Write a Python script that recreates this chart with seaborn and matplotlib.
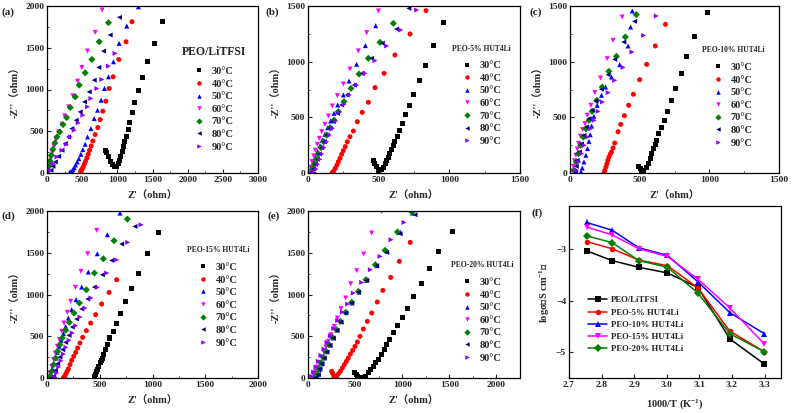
import matplotlib
matplotlib.use("Agg")
import matplotlib.pyplot as plt
import numpy as np
import pandas as pd
import seaborn as sns
from matplotlib.ticker import MultipleLocator, AutoMinorLocator
from matplotlib.font_manager import FontProperties

# ---------------- data ----------------
temps = ["30°C", "40°C", "50°C", "60°C", "70°C", "80°C", "90°C"]
colors = ["#000000", "#ff0000", "#0000ff", "#ff00ff", "#008000", "#000080", "#8b00ff"]
markers = ["s", "o", "^", "v", "D", "<", ">"]

# (a) PEO/LiTFSI
a30x = [831, 850, 879, 907, 935, 959, 987, 1011, 1030, 1049, 1068, 1087, 1105, 1124, 1153, 1176, 1209, 1242, 1299, 1360, 1431, 1526, 1639]
a30y = [272, 244, 192, 140, 100, 72, 80, 112, 152, 200, 252, 312, 372, 440, 524, 608, 724, 844, 984, 1144, 1332, 1552, 1812]
a40x = [480, 483, 487, 501, 515, 529, 548, 567, 586, 605, 628, 652, 685, 723, 756, 794, 836, 883, 940, 1020, 1124, 1209]
a40y = [15, 22, 32, 48, 72, 104, 140, 180, 224, 272, 324, 384, 460, 544, 640, 740, 860, 1012, 1152, 1360, 1572, 1812]
a50x = [321, 340, 354, 368, 387, 406, 430, 453, 482, 510, 543, 576, 624, 671, 718, 770, 817, 874, 945, 1025, 1134, 1300]
a50y = [8, 16, 20, 40, 64, 96, 132, 172, 224, 280, 344, 432, 532, 652, 752, 872, 1012, 1152, 1332, 1552, 1760, 1990]
a60x = [24, 38, 57, 76, 99, 128, 165, 213, 250, 307, 368, 435, 496, 576, 685, 784]
a60y = [52, 112, 176, 244, 320, 400, 492, 584, 684, 792, 924, 1100, 1264, 1460, 1684, 1952]
a70x = [19, 28, 43, 61, 85, 113, 142, 180, 227, 279, 331, 402, 458, 543, 638, 742, 874]
a70y = [32, 80, 144, 212, 284, 360, 432, 492, 580, 664, 784, 912, 1052, 1200, 1360, 1572, 1800]
a80x = [57, 85, 118, 165, 213, 260, 307, 354, 416, 472, 534, 600, 671, 737, 803, 898, 1030]
a80y = [32, 80, 132, 200, 272, 352, 432, 532, 632, 732, 852, 972, 1112, 1264, 1460, 1652, 1864]
a90x = [47, 85, 142, 213, 274, 331, 387, 444, 510, 576, 624, 709, 779, 874, 968]
a90y = [32, 112, 192, 272, 344, 432, 512, 600, 692, 792, 892, 1012, 1120, 1280, 1432]

# (b) PEO-5% HUT4Li
b30x = [462, 474, 486, 502, 521, 533, 545, 556, 568, 580, 592, 604, 615, 630, 648, 667, 691, 717, 745, 788, 832, 891, 957]
b30y = [111, 87, 57, 21, 27, 51, 81, 111, 141, 174, 207, 245, 281, 326, 380, 446, 521, 605, 707, 829, 964, 1144, 1350]
b40x = [172, 182, 193, 205, 215, 226, 238, 250, 264, 278, 297, 321, 349, 384, 427, 474, 538, 615, 722, 835]
b40y = [3, 18, 42, 72, 102, 132, 168, 201, 237, 281, 326, 377, 461, 545, 635, 767, 895, 1060, 1249, 1458]
b50x = [21, 31, 42, 54, 68, 85, 101, 120, 139, 160, 184, 210, 250, 290, 344, 406, 479]
b50y = [12, 51, 96, 141, 192, 245, 296, 347, 407, 467, 536, 611, 701, 826, 976, 1144, 1323]
b60x = [9, 19, 28, 40, 52, 66, 80, 97, 120, 144, 172, 208, 250, 297, 356, 415, 498]
b60y = [12, 51, 102, 153, 204, 257, 311, 371, 437, 512, 602, 695, 799, 934, 1096, 1260, 1455]
b70x = [33, 45, 59, 73, 92, 111, 132, 156, 184, 215, 255, 304, 361, 427, 509, 604]
b70y = [36, 78, 123, 171, 228, 281, 341, 407, 476, 551, 641, 760, 889, 1030, 1174, 1344]
b80x = [40, 52, 66, 80, 97, 116, 134, 156, 179, 208, 238, 278, 328, 384, 450, 526, 627, 714]
b80y = [36, 78, 123, 171, 228, 281, 341, 401, 461, 536, 611, 701, 790, 895, 1030, 1165, 1293, 1479]
b90x = [45, 57, 68, 83, 97, 113, 132, 151, 172, 196, 222, 255, 292, 344, 403, 474, 556, 656, 769]
b90y = [3, 36, 78, 123, 171, 228, 281, 341, 401, 467, 545, 617, 701, 790, 895, 1009, 1141, 1284, 1464]

# (c) PEO-10% HUT4Li
c30x = [495, 505, 515, 524, 531, 547, 564, 578, 588, 600, 612, 624, 638, 654, 676, 697, 728, 754, 797, 838, 892, 990]
c30y = [60, 40, 20, 12, 24, 45, 84, 129, 174, 219, 255, 293, 353, 407, 476, 554, 650, 763, 892, 1048, 1228, 1440]
c40x = [245, 250, 258, 265, 272, 280, 289, 298, 309, 321, 345, 364, 390, 421, 455, 500, 550, 612, 685]
c40y = [0, 24, 54, 84, 114, 144, 170, 189, 225, 269, 371, 437, 515, 608, 707, 838, 976, 1141, 1335]
c50x = [79, 88, 100, 114, 126, 136, 145, 155, 171, 195, 226, 255, 298, 357, 417, 435, 447]
c50y = [9, 45, 99, 159, 219, 284, 344, 422, 509, 608, 698, 772, 862, 973, 1141, 1311, 1455]
c60x = [16, 24, 33, 42, 52, 62, 75, 90, 107, 124, 150, 178, 219, 267, 309, 374]
c60y = [18, 60, 110, 160, 215, 265, 330, 390, 443, 518, 608, 722, 853, 1027, 1192, 1401]
c70x = [31, 45, 60, 76, 95, 114, 136, 159, 193, 231, 279, 333, 397, 476]
c70y = [24, 99, 174, 248, 323, 398, 473, 554, 653, 772, 913, 1048, 1222, 1422]
c80x = [40, 45, 52, 67, 83, 100, 119, 138, 159, 186, 226, 274, 321, 386, 464]
c80y = [9, 60, 114, 189, 263, 338, 413, 488, 563, 644, 752, 883, 1021, 1176, 1362]
c90x = [48, 64, 83, 102, 126, 150, 174, 202, 233, 274, 321, 381, 445, 528, 619]
c90y = [24, 99, 174, 248, 323, 398, 473, 554, 638, 722, 832, 949, 1087, 1236, 1410]

# (d) PEO-15% HUT4Li
d30x = [446, 452, 460, 470, 480, 492, 505, 514, 525, 540, 556, 575, 597, 629, 660, 695, 743, 803, 872, 951, 1055]
d30y = [0, 20, 45, 75, 105, 140, 180, 205, 239, 287, 339, 399, 479, 559, 658, 770, 918, 1073, 1257, 1488, 1748]
d40x = [155, 161, 172, 180, 191, 202, 218, 234, 253, 272, 291, 313, 338, 373, 414, 461, 518, 588, 660]
d40y = [0, 8, 30, 52, 80, 108, 160, 211, 259, 307, 359, 419, 487, 567, 658, 758, 886, 1025, 1177]
d50x = [22, 35, 51, 66, 82, 98, 114, 133, 155, 177, 202, 234, 275, 329, 392, 477, 572, 692]
d50y = [10, 52, 108, 172, 239, 307, 379, 451, 531, 618, 718, 818, 938, 1089, 1269, 1488, 1716, 1975]
d60x = [15, 28, 44, 63, 79, 98, 117, 139, 161, 193, 224, 269, 322, 386, 471]
d60y = [10, 60, 140, 219, 299, 379, 459, 559, 658, 786, 918, 1085, 1277, 1488, 1768]
d70x = [15, 28, 44, 63, 82, 101, 123, 145, 177, 212, 256, 307, 373, 449, 534, 635, 762]
d70y = [0, 20, 80, 160, 239, 319, 399, 479, 571, 666, 778, 898, 1057, 1257, 1428, 1644, 1903]
d80x = [50, 63, 79, 101, 123, 149, 177, 209, 240, 281, 329, 386, 449, 525, 613, 708, 834]
d80y = [0, 20, 92, 172, 251, 339, 427, 511, 610, 706, 826, 946, 1089, 1237, 1408, 1604, 1815]
d90x = [70, 76, 92, 111, 133, 155, 180, 209, 240, 272, 313, 360, 417, 477, 566, 660, 765, 891]
d90y = [0, 8, 60, 132, 207, 287, 367, 451, 539, 626, 730, 838, 958, 1085, 1257, 1416, 1624, 1835]

# (e) PEO-20% HUT4Li
e30x = [492, 510, 530, 552, 575, 612, 641, 666, 690, 719, 747, 775, 807, 835, 867, 906, 952, 1002, 1055, 1119, 1200, 1289, 1385, 1533]
e30y = [68, 45, 20, 5, 10, 20, 60, 100, 140, 180, 227, 279, 339, 399, 459, 539, 626, 730, 838, 978, 1129, 1309, 1513, 1760]
e40x = [251, 262, 272, 280, 292, 304, 322, 343, 365, 386, 407, 428, 450, 474, 499, 524, 552, 588, 630, 676, 735, 794, 878, 969, 1085]
e40y = [80, 55, 32, 15, 15, 25, 48, 80, 120, 160, 200, 239, 287, 331, 379, 431, 499, 587, 678, 778, 910, 1049, 1205, 1397, 1624]
e50x = [80, 100, 120, 145, 170, 200, 235, 270, 310, 355, 405, 465, 540, 620, 730, 840, 980, 1110]
e50y = [10, 40, 100, 170, 240, 315, 395, 480, 575, 675, 785, 900, 1030, 1170, 1345, 1520, 1745, 1975]
e60x = [60, 81, 103, 124, 145, 170, 191, 216, 244, 280, 312, 350, 400, 453, 517, 591, 676, 782]
e60y = [32, 80, 132, 188, 247, 307, 371, 439, 519, 618, 718, 830, 958, 1129, 1285, 1484, 1736, 1995]
e70x = [70, 96, 117, 138, 163, 191, 223, 258, 301, 343, 400, 464, 535, 616, 715, 818, 949, 1104]
e70y = [5, 48, 112, 180, 247, 319, 399, 487, 579, 678, 786, 906, 1037, 1177, 1357, 1528, 1748, 1987]
e80x = [85, 110, 127, 149, 173, 202, 234, 269, 308, 350, 400, 464, 535, 623, 729, 835, 977, 1136]
e80y = [5, 40, 108, 172, 239, 311, 391, 479, 571, 670, 778, 898, 1029, 1169, 1345, 1504, 1728, 1955]
e90x = [39, 60, 85, 110, 138, 170, 202, 237, 273, 315, 365, 421, 481, 570, 662, 765, 881, 1019]
e90y = [20, 72, 132, 200, 271, 347, 427, 507, 594, 690, 790, 886, 1017, 1145, 1297, 1456, 1656, 1863]

# (f) Arrhenius plot
inv_T = [2.754, 2.832, 2.914, 3.002, 3.095, 3.193, 3.299]
sigma_litfsi = [-3.03, -3.22, -3.35, -3.46, -3.74, -4.74, -5.23]
sigma_5 = [-2.85, -2.99, -3.21, -3.32, -3.75, -4.59, -4.99]
sigma_10 = [-2.48, -2.63, -2.97, -3.12, -3.63, -4.23, -4.64]
sigma_15 = [-2.57, -2.72, -2.99, -3.14, -3.58, -4.14, -4.84]
sigma_20 = [-2.74, -2.87, -3.22, -3.35, -3.85, -4.64, -4.99]
f_labels = ["PEO/LiTFSI", "PEO-5% HUT4Li", "PEO-10% HUT4Li", "PEO-15% HUT4Li", "PEO-20% HUT4Li"]
f_colors = ["#000000", "#ff0000", "#0000ff", "#ff00ff", "#008000"]
f_markers = ["s", "o", "^", "v", "D"]

# ---------------- style ----------------
sns.set_theme(style="ticks")
plt.rcParams["font.family"] = ["Liberation Serif", "Noto Sans CJK SC"]
plt.rcParams["font.weight"] = "bold"
plt.rcParams["axes.labelweight"] = "bold"
plt.rcParams["mathtext.fontset"] = "custom"
plt.rcParams["mathtext.rm"] = "Liberation Serif:bold"
plt.rcParams["mathtext.default"] = "rm"

W, H = 792, 413
fig = plt.figure(figsize=(W / 100, H / 100), dpi=100)


def rect(l, r, t, b):
    return [l / W, (H - b) / H, (r - l) / W, (b - t) / H]


leg_font = FontProperties(family="Liberation Serif", weight="bold", size=7.5)


def style_axes(ax, xmax, ymax, xstep, ystep):
    ax.set_xlim(0, xmax)
    ax.set_ylim(0, ymax)
    ax.xaxis.set_major_locator(MultipleLocator(xstep))
    ax.yaxis.set_major_locator(MultipleLocator(ystep))
    ax.xaxis.set_minor_locator(AutoMinorLocator(2))
    ax.yaxis.set_minor_locator(AutoMinorLocator(2))
    ax.tick_params(which="major", direction="in", length=3, width=0.8, labelsize=6.8,
                   top=False, right=False, pad=2)
    ax.tick_params(which="minor", direction="in", length=1.6, width=0.6, top=False, right=False)
    for sp in ax.spines.values():
        sp.set_linewidth(0.9)
        sp.set_color("black")
    for lab in ax.get_xticklabels() + ax.get_yticklabels():
        lab.set_fontweight("bold")


def nyquist(ax, series, xmax, ymax, xstep, ystep, title, title_size, anchor, spacing):
    rows = []
    for t, (xs, ys) in zip(temps, series):
        for x, y in zip(xs, ys):
            rows.append({"x": x, "y": y, "T": t})
    df = pd.DataFrame(rows)
    sns.scatterplot(data=df, x="x", y="y", hue="T", style="T", hue_order=temps, style_order=temps,
                    palette=dict(zip(temps, colors)), markers=dict(zip(temps, markers)),
                    s=13, linewidth=0, ax=ax, legend="full")
    style_axes(ax, xmax, ymax, xstep, ystep)
    ax.set_xlabel("Z'（ohm）", fontsize=7.5, labelpad=5)
    ax.set_ylabel("-Z''（ohm）", fontsize=7.5, labelpad=3)
    h, l = ax.get_legend_handles_labels()
    for hh in h:
        hh.set_markersize(3.2)
    leg = ax.legend(h, l, title=title, loc="upper center", bbox_to_anchor=anchor, frameon=False,
                    prop=leg_font, labelspacing=spacing, handletextpad=0.7, borderpad=0,
                    handlelength=1.0,
                    title_fontproperties=FontProperties(family="Liberation Serif", weight="bold",
                                                        size=title_size))
    leg._legend_box.sep = 6


ax_a = fig.add_axes(rect(47, 258, 6, 173))
nyquist(ax_a, [(a30x, a30y), (a40x, a40y), (a50x, a50y), (a60x, a60y), (a70x, a70y), (a80x, a80y), (a90x, a90y)],
        3000, 2000, 500, 500, "PEO/LiTFSI", 8.5, (0.79, 0.79), 0.32)

ax_b = fig.add_axes(rect(308, 520, 6, 173))
nyquist(ax_b, [(b30x, b30y), (b40x, b40y), (b50x, b50y), (b60x, b60y), (b70x, b70y), (b80x, b80y), (b90x, b90y)],
        1500, 1500, 500, 500, "PEO-5% HUT4Li", 5.5, (0.82, 0.80), 0.32)

ax_c = fig.add_axes(rect(570, 779, 6, 173))
nyquist(ax_c, [(c30x, c30y), (c40x, c40y), (c50x, c50y), (c60x, c60y), (c70x, c70y), (c80x, c80y), (c90x, c90y)],
        1500, 1500, 500, 500, "PEO-10% HUT4Li", 5.5, (0.78, 0.79), 0.32)

ax_d = fig.add_axes(rect(47, 258, 211, 378))
nyquist(ax_d, [(d30x, d30y), (d40x, d40y), (d50x, d50y), (d60x, d60y), (d70x, d70y), (d80x, d80y), (d90x, d90y)],
        2000, 2000, 500, 500, "PEO-15% HUT4Li", 5.5, (0.81, 0.82), 0.32)

ax_e = fig.add_axes(rect(308, 520, 211, 378))
nyquist(ax_e, [(e30x, e30y), (e40x, e40y), (e50x, e50y), (e60x, e60y), (e70x, e70y), (e80x, e80y), (e90x, e90y)],
        2250, 2000, 500, 500, "PEO-20% HUT4Li", 5.5, (0.82, 0.73), 0.32)

# (f)
ax_f = fig.add_axes(rect(569, 781, 206, 378))
rows = []
for lab, ys in zip(f_labels, [sigma_litfsi, sigma_5, sigma_10, sigma_15, sigma_20]):
    for x, y in zip(inv_T, ys):
        rows.append({"x": x, "y": y, "S": lab})
dff = pd.DataFrame(rows)
sns.lineplot(data=dff, x="x", y="y", hue="S", style="S", hue_order=f_labels, style_order=f_labels,
             palette=dict(zip(f_labels, f_colors)), markers=dict(zip(f_labels, f_markers)),
             dashes=False, markersize=4, markeredgewidth=0, linewidth=1.1, ax=ax_f, legend="full")
ax_f.set_xlim(2.7, 3.35)
ax_f.set_ylim(-5.5, -2.16)
ax_f.xaxis.set_major_locator(MultipleLocator(0.1))
ax_f.yaxis.set_major_locator(MultipleLocator(1))
ax_f.tick_params(which="major", direction="in", length=3, width=0.8, labelsize=6.8, top=False, right=False, pad=2)
for sp in ax_f.spines.values():
    sp.set_linewidth(0.9)
    sp.set_color("black")
for lab in ax_f.get_xticklabels() + ax_f.get_yticklabels():
    lab.set_fontweight("bold")
ax_f.set_xlabel("1000/T (K$^{-1}$)", fontsize=7.5, labelpad=6)
ax_f.set_ylabel("logσ（S cm$^{-1}$）", fontsize=7.5, labelpad=3)
h, l = ax_f.get_legend_handles_labels()
ax_f.legend(h, l, loc="upper left", bbox_to_anchor=(0.07, 0.50), frameon=False,
            prop=FontProperties(family="Liberation Serif", weight="bold", size=6.3),
            labelspacing=0.45, handletextpad=0.4, handlelength=2.2, borderpad=0)

# panel letters
for txt, x, y in [("(a)", 1, 12), ("(b)", 266, 12), ("(c)", 529, 12),
                  ("(d)", 1, 216), ("(e)", 267, 216), ("(f)", 531, 213)]:
    fig.text(x / W, 1 - y / H, txt, fontsize=8, fontweight="bold", ha="left", va="center")

fig.savefig("out.png", dpi=100)
